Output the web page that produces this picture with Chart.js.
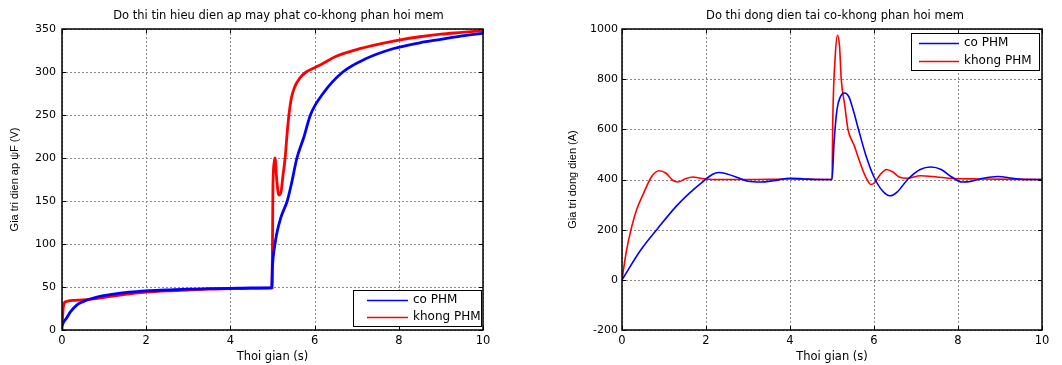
<!DOCTYPE html>
<html>
<head>
<meta charset="utf-8">
<script src="https://cdn.jsdelivr.net/npm/chart.js@4/dist/chart.umd.min.js"></script>
<style>
html,body{margin:0;padding:0;background:#fff;}
#wrap{width:1062px;height:365px;position:relative;}
canvas{position:absolute;top:0;}
#c1{left:0;} #c2{left:531px;}
</style>
</head>
<body>
<div id="wrap"><canvas id="c1" width="531" height="365"></canvas><canvas id="c2" width="531" height="365"></canvas></div>
<script>
// ---------- Data: left chart (voltage) ----------
const vTitle = "Do thi tin hieu dien ap may phat co-khong phan hoi mem";
const vYLabel = "Gia tri dien ap \u03C8F (V)";
const xLabel = "Thoi gian (s)";
const seriesNames = ["co PHM", "khong PHM"];

const vTimeCo = [0,0.05,0.11,0.2,0.35,0.5,0.67,0.85,1.14,1.6,2.0,2.5,3.0,3.5,4.0,4.5,4.98,5.0,5.05,5.1,5.2,5.35,5.45,5.58,5.75,5.9,6.2,6.67,7.2,7.86,8.5,9.0,9.5,10];
const vValCo  = [5,10,14,21,29,33,36,38.5,41,44,45.5,46.5,47.5,48,48.5,49,49,75,97,112,131,150,170,200,225,250,275,300,315,327,334,338,342,345];

const vTimeKh = [0,0.02,0.05,0.1,0.16,0.3,0.5,0.8,1.0,1.5,2.0,2.5,3.0,3.5,4.0,4.5,4.99,5.01,5.04,5.06,5.1,5.15,5.2,5.25,5.3,5.35,5.39,5.45,5.53,5.65,5.8,6.0,6.2,6.5,7.0,7.5,8.0,8.5,9.0,9.5,10];
const vValKh  = [0,20,31,33,34,34.5,35,36.5,38,41.5,44,45.5,46.5,47.5,48,48.5,49,165,195,200,175,157,160,180,200,230,250,270,283,293,300,305,310,318,326,332,337,341,344,346,348];

// ---------- Data: right chart (current) ----------
const iTitle = "Do thi dong dien tai co-khong phan hoi mem";
const iYLabel = "Gia tri dong dien (A)";

const iTimeCo = [0,0.45,0.85,1.3,1.6,1.95,2.15,2.3,2.5,2.8,3.0,3.3,3.6,4.0,4.3,4.6,5.0,5.05,5.12,5.2,5.3,5.4,5.5,5.63,5.8,6.0,6.2,6.38,6.55,6.8,7.1,7.35,7.6,7.85,8.1,8.3,8.6,8.95,9.3,9.6,10];
const iValCo  = [0,120,205,295,345,395,420,428,422,405,393,390,395,405,403,400,400,550,680,730,745,730,680,600,500,410,355,335,350,400,440,450,440,410,390,392,405,412,405,400,400];

const iTimeKh = [0,0.1,0.2,0.35,0.5,0.7,0.88,1.05,1.2,1.33,1.5,1.68,1.9,2.2,3.0,4.0,5.0,5.02,5.08,5.13,5.18,5.22,5.3,5.38,5.46,5.53,5.6,5.75,5.85,5.92,6.0,6.15,6.3,6.45,6.6,6.8,7.1,7.5,7.8,8.5,10];
const iValKh  = [0,110,190,280,340,410,435,425,398,390,402,410,404,400,400,402,400,650,900,975,930,800,700,600,560,535,500,430,395,380,385,420,440,430,410,405,415,410,405,402,400];

// axis ticks
const xMin = 0, xMax = 10, xStep = 2;
const vMin = 0, vMax = 350, vStep = 50;
const iMin = -200, iMax = 1000, iStep = 200;

const BLUE = "#0000ff", RED = "#ff0000";
const FONT = "'DejaVu Sans', sans-serif";
const YFONT = "'Liberation Sans', Arial, sans-serif";

function pairs(t, v){ return t.map((x,i)=>({x:x, y:v[i]})); }

function makePlugin(cfg){
  return {
    id: 'matlabLook',
    beforeDatasetsDraw(chart){
      const {ctx, chartArea:a, scales:{x, y}} = chart;
      ctx.save();
      ctx.strokeStyle = '#8a8a8a';
      ctx.lineWidth = 1;
      ctx.setLineDash([2,2]);
      x.ticks.forEach(t=>{
        const px = Math.round(x.getPixelForValue(t.value)) + 0.5;
        ctx.beginPath(); ctx.moveTo(px, a.top); ctx.lineTo(px, a.bottom); ctx.stroke();
      });
      y.ticks.forEach(t=>{
        const py = Math.round(y.getPixelForValue(t.value)) + 0.5;
        ctx.beginPath(); ctx.moveTo(a.left, py); ctx.lineTo(a.right, py); ctx.stroke();
      });
      ctx.restore();
    },
    afterDatasetsDraw(chart){
      const {ctx, chartArea:a, scales:{x, y}} = chart;
      ctx.save();
      // frame
      ctx.strokeStyle = '#000';
      ctx.lineWidth = cfg.frameW;
      ctx.strokeRect(a.left, a.top, a.right - a.left, a.bottom - a.top);
      // inward ticks
      ctx.lineWidth = 1;
      const tl = 4;
      x.ticks.forEach(t=>{
        const px = Math.round(x.getPixelForValue(t.value)) + 0.5;
        ctx.beginPath(); ctx.moveTo(px, a.bottom); ctx.lineTo(px, a.bottom - tl);
        ctx.moveTo(px, a.top); ctx.lineTo(px, a.top + tl); ctx.stroke();
      });
      y.ticks.forEach(t=>{
        const py = Math.round(y.getPixelForValue(t.value)) + 0.5;
        ctx.beginPath(); ctx.moveTo(a.left, py); ctx.lineTo(a.left + tl, py);
        ctx.moveTo(a.right, py); ctx.lineTo(a.right - tl, py); ctx.stroke();
      });
      // legend
      const L = cfg.legend;
      ctx.fillStyle = '#fff';
      ctx.fillRect(L.x, L.y, L.w, L.h);
      ctx.strokeStyle = '#000';
      ctx.lineWidth = 1;
      ctx.strokeRect(L.x + 0.5, L.y + 0.5, L.w, L.h);
      ctx.font = "12px " + FONT;
      ctx.textBaseline = 'middle';
      ctx.textAlign = 'left';
      chart.data.datasets.forEach((ds, i)=>{
        const ly = L.y + L.row0 + i * L.rowH;
        ctx.strokeStyle = ds.borderColor;
        ctx.lineWidth = 1.5;
        ctx.beginPath(); ctx.moveTo(L.x + L.l0, ly + 0.5); ctx.lineTo(L.x + L.l1, ly + 0.5); ctx.stroke();
        ctx.fillStyle = '#000';
        ctx.fillText(ds.label, L.x + L.tx, ly);
      });
      // title
      ctx.fillStyle = '#000';
      ctx.font = "11.5px " + FONT;
      ctx.textAlign = 'center';
      ctx.textBaseline = 'middle';
      ctx.fillText(cfg.title, (a.left + a.right) / 2 + cfg.titleDx, 16);
      // x label
      ctx.font = "11.5px " + FONT;
      ctx.fillText(xLabel, (a.left + a.right) / 2, 357);
      // y label
      ctx.save();
      ctx.translate(cfg.yLabelX, (a.top + a.bottom) / 2);
      ctx.rotate(-Math.PI / 2);
      ctx.font = "11px " + YFONT;
      ctx.fillText(cfg.yLabel, 0, 0);
      ctx.restore();
      ctx.restore();
    }
  };
}

function makeChart(id, dsets, yMin, yMax, yStep, cfg){
  return new Chart(document.getElementById(id), {
    type: 'line',
    data: { datasets: dsets },
    options: {
      responsive: false,
      animation: false,
      events: [],
      layout: { padding: { top: 29, right: cfg.padRight, left: 0, bottom: 0 } },
      plugins: { legend: { display: false }, tooltip: { enabled: false }, title: { display: false } },
      elements: { point: { radius: 0 } },
      scales: {
        x: {
          type: 'linear', min: xMin, max: xMax,
          ticks: { stepSize: xStep, color: '#000', font: { family: FONT, size: 11.5 }, padding: 4, maxRotation: 0,
                   callback: v => String(v) },
          grid: { display: false, drawTicks: false },
          border: { display: false },
          afterFit(s){ s.height = 35; }
        },
        y: {
          type: 'linear', min: yMin, max: yMax,
          ticks: { stepSize: yStep, color: '#000', font: { family: FONT, size: 11 }, padding: cfg.yPad,
                   callback: v => String(v) },
          grid: { display: false, drawTicks: false },
          border: { display: false },
          afterFit(s){ s.width = cfg.yWidth; }
        }
      }
    },
    plugins: [makePlugin(cfg)]
  });
}

makeChart('c1', [
  { label: seriesNames[0], data: pairs(vTimeCo, vValCo), borderColor: BLUE, borderWidth: 2.8, cubicInterpolationMode: 'monotone', fill: false },
  { label: seriesNames[1], data: pairs(vTimeKh, vValKh), borderColor: RED, borderWidth: 2.8, cubicInterpolationMode: 'monotone', fill: false }
], vMin, vMax, vStep, {
  padRight: 48, yWidth: 62, yPad: 6, frameW: 1.5, title: vTitle, titleDx: 6, yLabel: vYLabel, yLabelX: 15,
  legend: { x: 353, y: 290, w: 128, h: 36, row0: 10, rowH: 17, l0: 14, l1: 55, tx: 60 }
});

makeChart('c2', [
  { label: seriesNames[0], data: pairs(iTimeCo, iValCo), borderColor: BLUE, borderWidth: 1.6, cubicInterpolationMode: 'monotone', fill: false },
  { label: seriesNames[1], data: pairs(iTimeKh, iValKh), borderColor: RED, borderWidth: 1.6, cubicInterpolationMode: 'monotone', fill: false }
], iMin, iMax, iStep, {
  padRight: 20, yWidth: 91, yPad: 4, frameW: 1.5, title: iTitle, titleDx: 3, yLabel: iYLabel, yLabelX: 42,
  legend: { x: 380, y: 33, w: 128, h: 37, row0: 10, rowH: 18, l0: 8, l1: 48, tx: 53 }
});
</script>
</body>
</html>
